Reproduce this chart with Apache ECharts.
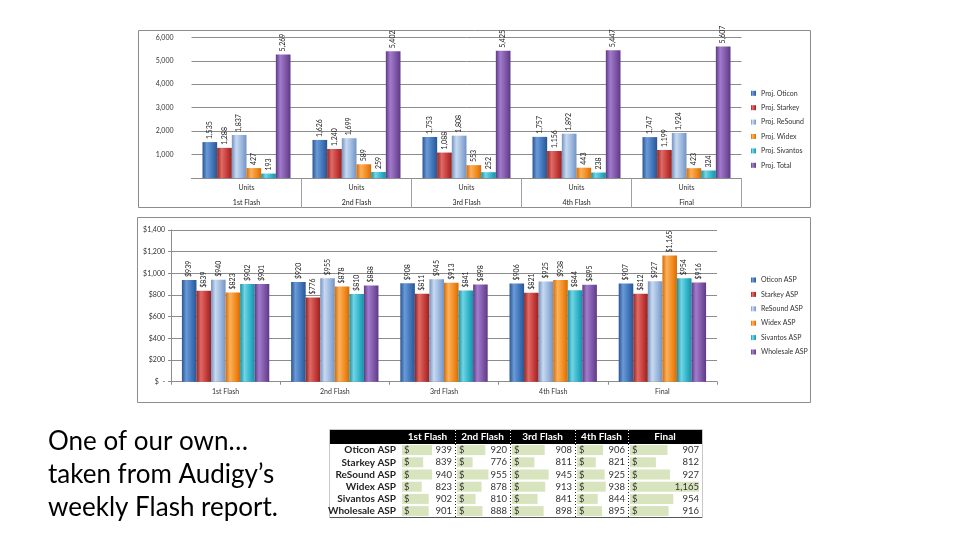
<!DOCTYPE html>
<html><head><meta charset="utf-8">
<script src="https://cdn.jsdelivr.net/npm/echarts@6/dist/echarts.min.js"></script>
<style>html,body{margin:0;padding:0;background:#fff}#c{width:960px;height:540px}</style>
</head><body><div id="c"></div>
<script>
// ---------- data ----------
const flashes = ['1st Flash', '2nd Flash', '3rd Flash', '4th Flash', 'Final'];
const unitNames = ['Proj. Oticon', 'Proj. Starkey', 'Proj. ReSound', 'Proj. Widex', 'Proj. Sivantos', 'Proj. Total'];
const projOticon   = [1535, 1626, 1753, 1757, 1747];
const projStarkey  = [1288, 1240, 1088, 1156, 1199];
const projReSound  = [1837, 1699, 1808, 1892, 1924];
const projWidex    = [427, 589, 553, 443, 423];
const projSivantos = [193, 259, 252, 238, 324];
const projTotal    = [5269, 5402, 5425, 5447, 5607];

const aspNames = ['Oticon ASP', 'Starkey ASP', 'ReSound ASP', 'Widex ASP', 'Sivantos ASP', 'Wholesale ASP'];
const oticonASP    = [939, 920, 908, 906, 907];
const starkeyASP   = [839, 776, 811, 821, 812];
const resoundASP   = [940, 955, 945, 925, 927];
const widexASP     = [823, 878, 913, 938, 1165];
const sivantosASP  = [902, 810, 841, 844, 954];
const wholesaleASP = [901, 888, 898, 895, 916];

const unitAxis = {min: 0, max: 6000, interval: 1000};
const aspAxis = {min: 0, max: 1400, interval: 200};

const textLines = ['One of our own\u2026', 'taken from Audigy\u2019s', 'weekly Flash report.'];

// ---------- styling ----------
const FONT = 'Lato, "Liberation Sans", sans-serif';
const palette = [
  ['#2a5692', '#6a9bd8', '#3f73b8'],
  ['#93231f', '#e06a66', '#c33a37'],
  ['#7393c2', '#c8daf0', '#98b4dc'],
  ['#d46c06', '#fbb15c', '#f28a1e'],
  ['#1b8fa3', '#72d5e4', '#2fb3c9'],
  ['#5d3a85', '#a27ccc', '#7d55a6']
];
function grad(p) {
  return new echarts.graphic.LinearGradient(0, 0, 1, 0, [
    {offset: 0, color: p[0]}, {offset: 0.3, color: p[1]}, {offset: 0.7, color: p[2]}, {offset: 1, color: p[0]}
  ]);
}
const fmt = v => v.toLocaleString('en-US');

const unitSeriesData = [projOticon, projStarkey, projReSound, projWidex, projSivantos, projTotal];
const aspSeriesData = [oticonASP, starkeyASP, resoundASP, widexASP, sivantosASP, wholesaleASP];

const labelStyle = {show: true, position: 'top', rotate: 90, align: 'left', verticalAlign: 'middle',
  distance: 3, fontSize: 7, color: '#222', fontFamily: FONT};

const grids = [
  {left: 191.5, top: 37.3, width: 550, height: 140.8},
  {left: 171, top: 230, width: 546, height: 151.7}
];
const xAxes = [
  {gridIndex: 0, type: 'category', data: flashes,
   axisLine: {lineStyle: {color: '#8c8c8c'}},
   axisTick: {show: true, length: 30, interval: (i) => i > 0 && i < flashes.length, lineStyle: {color: '#a0a0a0'}},
   axisLabel: {formatter: () => 'Units', fontSize: 7, color: '#333', margin: 6, fontFamily: FONT}},
  {gridIndex: 0, type: 'category', data: flashes, position: 'bottom', offset: 15,
   axisLine: {show: false}, axisTick: {show: false},
   axisLabel: {fontSize: 7, color: '#222', margin: 6, fontFamily: FONT}},
  {gridIndex: 1, type: 'category', data: flashes,
   axisLine: {lineStyle: {color: '#8c8c8c'}},
   axisTick: {show: true, length: 3, lineStyle: {color: '#8c8c8c'}},
   axisLabel: {fontSize: 7, color: '#333', margin: 7, fontFamily: FONT}}
];
const yAxes = [
  {gridIndex: 0, type: 'value', min: unitAxis.min, max: unitAxis.max, interval: unitAxis.interval,
   axisLine: {show: false}, axisTick: {show: false},
   splitLine: {lineStyle: {color: '#8c8c8c'}},
   axisLabel: {formatter: v => v === 0 ? '' : fmt(v), fontSize: 7, color: '#333', margin: 18, fontFamily: FONT}},
  {gridIndex: 1, type: 'value', min: aspAxis.min, max: aspAxis.max, interval: aspAxis.interval,
   axisLine: {show: true, lineStyle: {color: '#8c8c8c'}}, axisTick: {show: true, length: 3, lineStyle: {color: '#8c8c8c'}},
   splitLine: {lineStyle: {color: '#8c8c8c'}},
   axisLabel: {formatter: v => v === 0 ? '$  -' : '$' + fmt(v), fontSize: 7, color: '#333', margin: 6, fontFamily: FONT}}
];
const series = [];
unitNames.forEach((n, i) => series.push({
  name: n, type: 'bar', xAxisIndex: 0, yAxisIndex: 0, data: unitSeriesData[i],
  barGap: '0%', barCategoryGap: '20%', itemStyle: {color: grad(palette[i])},
  label: Object.assign({}, labelStyle, {formatter: p => fmt(p.value)})
}));
aspNames.forEach((n, i) => series.push({
  name: n, type: 'bar', xAxisIndex: 2, yAxisIndex: 1, data: aspSeriesData[i],
  barGap: '0%', barCategoryGap: '20%', itemStyle: {color: grad(palette[i])},
  label: Object.assign({}, labelStyle, {formatter: p => '$' + fmt(p.value)})
}));

// ---------- table (data bars) ----------
const TABLE_COLS = [[400, 455], [455, 510], [510, 575], [575, 628], [628, 702]];
const TABLE_TOP = 444, ROW_H = 12.2;
const TABLE_BAR_MIN = 600;
const tableMax = Math.max(...aspSeriesData.flat());
flashes.forEach((f, c) => {
  const g = grids.length;
  grids.push({left: TABLE_COLS[c][0] + 2, width: TABLE_COLS[c][1] - TABLE_COLS[c][0] - 5, top: TABLE_TOP, height: ROW_H * aspNames.length});
  xAxes.push({gridIndex: g, type: 'value', min: TABLE_BAR_MIN, max: tableMax, show: false});
  yAxes.push({gridIndex: g, type: 'category', data: aspNames, inverse: true,
    axisLine: {show: false}, axisTick: {show: false}, splitLine: {show: false},
    axisLabel: {show: c === 0, interval: 0, fontSize: 10, fontWeight: 'bold', color: '#1f1f1f', margin: 6, fontFamily: FONT}});
  series.push({
    type: 'custom', xAxisIndex: xAxes.length - 1, yAxisIndex: yAxes.length - 1,
    data: aspSeriesData.map((arr, r) => [arr[c], r]),
    encode: {x: 0, y: 1},
    renderItem: (params, api) => {
      const v = api.value(0), r = api.value(1);
      const s = api.coord([TABLE_BAR_MIN, r]);
      const e = api.coord([v, r]);
      const rt = api.coord([tableMax, r]);
      const h = api.size([0, 1])[1] * 0.82;
      return {type: 'group', children: [
        {type: 'rect', shape: {x: s[0], y: s[1] - h / 2, width: e[0] - s[0], height: h}, style: {fill: '#d7e4bd'}},
        {type: 'text', x: s[0] + 2, y: s[1], style: {text: '$', fontSize: 9.5, fontFamily: FONT, fill: '#333', align: 'left', verticalAlign: 'middle'}},
        {type: 'text', x: rt[0], y: s[1], style: {text: fmt(v), fontSize: 9.5, fontFamily: FONT, fill: '#333', align: 'right', verticalAlign: 'middle'}}
      ]};
    }
  });
});

const graphics = [
  {type: 'rect', shape: {x: 138.5, y: 30.5, width: 672, height: 177}, style: {fill: 'none', stroke: '#8c8c8c', lineWidth: 1}, z: -1},
  {type: 'rect', shape: {x: 137.5, y: 217.5, width: 673, height: 185}, style: {fill: 'none', stroke: '#8c8c8c', lineWidth: 1}, z: -1},
  {type: 'rect', shape: {x: 330, y: 430, width: 372, height: 14}, style: {fill: '#000'}},
  {type: 'rect', shape: {x: 329.5, y: 429.5, width: 373, height: 88}, style: {fill: 'none', stroke: '#c8c8c8', lineWidth: 1}},
  {type: 'line', shape: {x1: 330, y1: 517.5, x2: 702, y2: 517.5}, style: {stroke: '#555', lineWidth: 1}}
];
flashes.forEach((f, c) => {
  const cx = (TABLE_COLS[c][0] + TABLE_COLS[c][1]) / 2;
  graphics.push({type: 'text', x: cx, y: 437, style: {text: f, fontSize: 10, fontWeight: 'bold', fontFamily: FONT, fill: '#fff', align: 'center', verticalAlign: 'middle'}});
  if (c > 0) {
    const x = TABLE_COLS[c][0] + 0.5;
    graphics.push({type: 'line', shape: {x1: x, y1: 430, x2: x, y2: 444}, style: {stroke: '#fff', lineWidth: 1, lineDash: [1, 2]}});
    graphics.push({type: 'line', shape: {x1: x, y1: 444, x2: x, y2: 517}, style: {stroke: '#222', lineWidth: 1, lineDash: [1, 2]}});
  }
});
textLines.forEach((t, i) => graphics.push({type: 'text', x: 48, y: 442 + i * 33,
  style: {text: t, fontSize: 26, fontFamily: FONT, fill: '#000', align: 'left', verticalAlign: 'middle'}}));

const chart = echarts.init(document.getElementById('c'), null, {renderer: 'canvas'});
chart.setOption({
  animation: false,
  backgroundColor: '#fff',
  textStyle: {fontFamily: FONT},
  grid: grids, xAxis: xAxes, yAxis: yAxes, series: series,
  legend: [
    {data: unitNames, orient: 'vertical', left: 746, top: 84.3, itemWidth: 5, itemHeight: 5, itemGap: 6.4,
     icon: 'rect', textStyle: {fontSize: 7, lineHeight: 8, color: '#333', fontFamily: FONT}},
    {data: aspNames, orient: 'vertical', left: 746, top: 271, itemWidth: 5, itemHeight: 5, itemGap: 6.4,
     icon: 'rect', textStyle: {fontSize: 7, lineHeight: 8, color: '#333', fontFamily: FONT}}
  ],
  graphic: graphics
});
</script></body></html>
